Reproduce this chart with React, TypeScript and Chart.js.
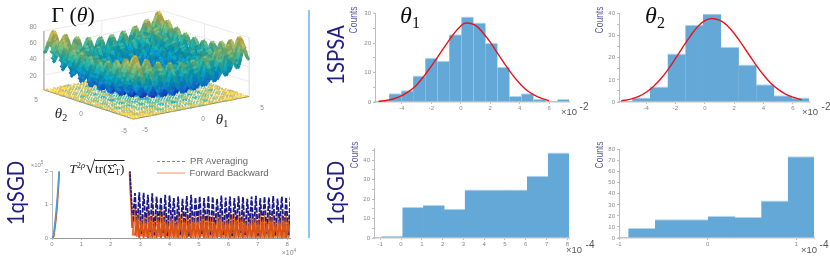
import React, { useEffect, useRef } from "react";
import { Chart, registerables } from "chart.js";
Chart.register(...registerables);

// ---------- data ----------
// Surface: one-dimensional ridge profile of the back edge, theta = 0 .. 5 in steps of 0.125
const ridgeProfile = [0, 2.9, 10.1, 17.2, 20.3, 17.5, 10.6, 3.7, 1, 4.2, 11.6, 19, 22.3, 19.7, 13.1, 6.5, 4, 7.5, 15.1, 22.7, 26.3, 24, 17.6, 11.2, 9, 12.7, 20.6, 28.5, 32.3, 30.2, 24.1, 18, 16, 20, 28.1, 36.2, 40.3, 38.5, 32.6, 26.7, 25];

const zTicks = [20, 40, 60, 80];

const spikeX = [0.02, 0.06, 0.1, 0.14, 0.18, 0.22, 0.26];
const spikeBlue = [0, 0.15, 0.45, 0.8, 1.2, 1.7, 2.3];
const spikeOrange = [0, 0.05, 0.3, 0.6, 1.0, 1.55, 2.2];
const dropX = [2.63, 2.66, 2.7, 2.73];
const dropBlue = [2.4, 1.9, 1.25, 0.7];
const dropOrange = [2.4, 1.6, 1.0, 0.3];
const bluePeaks = [1.35, 1.38, 1.36, 1.3, 1.35, 1.25, 1.22, 1.3, 1.28, 1.2, 1.25, 1.18, 1.26, 1.3, 1.22, 1.25, 1.2, 1.27, 1.24, 1.18, 1.28, 1.22, 1.25, 1.2, 1.26, 1.23, 1.18, 1.25, 1.27, 1.2, 1.24, 1.22, 1.26, 1.19, 1.25, 1.23, 1.24];
const blueTroughs = [0.5, 0.3, 0.12, 0.4, 0.18, 0.08, 0.35, 0.15, 0.06, 0.42, 0.2, 0.1, 0.33, 0.07, 0.25, 0.45, 0.12, 0.3, 0.08, 0.22, 0.38, 0.1, 0.28, 0.06, 0.4, 0.16, 0.09, 0.32, 0.2, 0.07, 0.36, 0.14, 0.27, 0.08, 0.41, 0.18, 0.1];
const orangePeaks = [0.95, 0.8, 0.7, 0.85, 0.6, 0.75, 0.9, 0.65, 0.7, 0.55, 0.8, 0.6, 0.72, 0.68, 0.58, 0.8, 0.62, 0.7, 0.55, 0.75, 0.66, 0.6, 0.78, 0.58, 0.7, 0.64, 0.52, 0.76, 0.6, 0.68, 0.56, 0.72, 0.62, 0.58, 0.7, 0.6, 0.66];
const orangeLowPeaks = [0.5, 0.45, 0.4, 0.5, 0.38, 0.42, 0.5, 0.4, 0.44, 0.36, 0.48, 0.4, 0.42, 0.45, 0.38, 0.5, 0.4, 0.44, 0.36, 0.46, 0.42, 0.38, 0.48, 0.4, 0.44, 0.4, 0.36, 0.46, 0.4, 0.42, 0.38, 0.44, 0.4, 0.38, 0.44, 0.4, 0.42];
const orangeTroughs = [0.07, 0.04, 0.05, 0.03, 0.06, 0.04, 0.03, 0.05, 0.04, 0.06, 0.03, 0.05, 0.04, 0.03, 0.06, 0.04, 0.05, 0.03, 0.04, 0.06, 0.03, 0.05, 0.04, 0.03, 0.05, 0.04, 0.06, 0.03, 0.05, 0.04, 0.03, 0.05, 0.04, 0.06, 0.03, 0.04, 0.05];

const spsa1Centers = [-4.45, -3.63, -2.82, -2.0, -1.18, -0.37, 0.45, 1.27, 2.08, 2.9, 3.71, 4.53, 5.35, 6.98];
const spsa1Counts = [3, 4, 9, 15, 14, 23, 29, 27, 20, 12, 2, 3, 1, 1];
const spsa1FitX = [-5.6, -5, -4.5, -4, -3.5, -3, -2.5, -2, -1.5, -1, -0.5, 0, 0.35, 1, 1.5, 2, 2.5, 3, 3.5, 4, 4.5, 5, 5.5, 6];
const spsa1FitY = [0.2, 0.6, 1.2, 2.2, 3.7, 5.8, 8.8, 12.2, 15.8, 19.5, 23, 25.8, 26.8, 26, 23.5, 20.3, 16.5, 12.8, 9.3, 6.3, 3.9, 2.3, 1.2, 0.5];

const spsa2Centers = [-4.33, -3.12, -1.92, -0.71, 0.5, 1.7, 2.91, 4.12, 5.32, 6.53];
const spsa2Counts = [2, 7, 22, 35, 40, 25, 17, 8, 3, 2];
const spsa2FitX = [-5.7, -5, -4.5, -4, -3.5, -3, -2.5, -2, -1.5, -1, -0.5, 0, 0.45, 1, 1.5, 2, 2.5, 3, 3.5, 4, 4.5, 5, 5.5, 6, 6.6];
const spsa2FitY = [0.5, 1.4, 2.5, 4.4, 7, 10.5, 14.8, 19.7, 24.8, 29.7, 34, 36.8, 37.8, 37, 34.7, 31, 26.4, 21.5, 16.6, 12.2, 8.5, 5.7, 3.6, 2.2, 1];

const sgd1Centers = [-0.42, 0.58, 1.58, 2.58, 3.58, 4.58, 5.58, 6.58, 7.58];
const sgd1Counts = [1, 16, 17, 15, 25, 25, 25, 32, 44];

const sgd2Centers = [-0.74, -0.44, -0.14, 0.16, 0.46, 0.76, 1.06];
const sgd2Counts = [9, 17, 17, 20, 19, 34, 74];

// ---------- helpers ----------
const SANS = '"Liberation Sans", sans-serif';
const SERIF = '"Liberation Serif", serif';
const TICK = "#8a8a8a";
const BAR = "#64a8d7";

const parula: [number, number[]][] = [
  [0, [53, 42, 135]], [0.12, [15, 80, 222]], [0.25, [20, 125, 215]], [0.4, [6, 165, 200]],
  [0.5, [46, 183, 164]], [0.62, [135, 191, 119]], [0.75, [205, 185, 85]], [0.9, [245, 190, 50]], [1, [249, 220, 30]],
];
function colorAt(t: number, shade = 1, alpha = 1) {
  const v = Math.max(0, Math.min(1, t));
  for (let i = 1; i < parula.length; i++) {
    if (v <= parula[i][0]) {
      const [a, ca] = parula[i - 1];
      const [b, cb] = parula[i];
      const k = (v - a) / (b - a);
      const c = ca.map((q, n) => Math.round((q + (cb[n] - q) * k) * shade));
      return `rgba(${c[0]},${c[1]},${c[2]},${alpha})`;
    }
  }
  return "rgb(249,220,30)";
}

const front = [133, 122];
const toRight = [119, -24];
const toLeft = [-92, -31];
function project(t1: number, t2: number, z: number) {
  const a = (t1 + 5) / 10;
  const b = (t2 + 5) / 10;
  const k = 0.8 - 0.04 * (a + b) / 2;
  return { x: front[0] + a * toRight[0] + b * toLeft[0], y: front[1] + a * toRight[1] + b * toLeft[1] - z * k };
}
const profileAt = (i: number) => ridgeProfile[Math.abs(i - 40)];

function surfaceConfig() {
  const floor: any[] = [];
  const floorCol: string[] = [];
  for (let i = 0; i <= 80; i++) {
    for (let j = 0; j <= 80; j++) {
      const z = profileAt(i) + profileAt(j);
      if (z % 11 < 5) {
        floor.push(project((i - 40) / 8, (j - 40) / 8, 0));
        floorCol.push(colorAt(z / 100 + 0.3, 1, 0.75));
      }
    }
  }
  // one line per theta2 row, painted from the back row to the front row
  const rows: any[] = [];
  for (let j = 80; j >= 0; j--) {
    const pts: any[] = [];
    const cols: string[] = [];
    for (let i = 0; i <= 80; i++) {
      const z = profileAt(i) + profileAt(j);
      pts.push(project((i - 40) / 8, (j - 40) / 8, z));
      const mesh = i % 3 === 0 || j % 3 === 0;
      cols.push(colorAt(z / 100, mesh ? 0.85 : 1.0));
    }
    rows.push({
      type: "line",
      data: pts,
      borderWidth: 3,
      borderColor: cols[0],
      pointRadius: 0,
      segment: { borderColor: (ctx: any) => cols[ctx.p0DataIndex] },
    });
  }
  const wall = (pts: number[][], color: string, w = 0.8) => ({
    type: "line" as const,
    data: pts.map(([a, b, c]) => project(a, b, c)),
    borderColor: color,
    borderWidth: w,
    pointRadius: 0,
  });
  const grid = "#e4e4e4";
  const walls = [
    wall([[-5, 5, 0], [-5, 5, 80], [5, 5, 80], [5, -5, 80], [5, -5, 0]], grid),
    wall([[5, 5, 0], [5, 5, 80]], grid),
    wall([[0, 5, 0], [0, 5, 80]], grid),
    wall([[5, 0, 0], [5, 0, 80]], grid),
    ...zTicks.slice(0, 3).map((z) => wall([[-5, 5, z], [5, 5, z], [5, -5, z]], grid)),
    wall([[-5, 5, 0], [-5, 5, 80]], "#666", 1),
    wall([[-5, 5, 0], [-5, -5, 0], [5, -5, 0]], "#777", 1),
  ];
  // chart.js paints the first dataset last, so list front-most first
  return {
    type: "scatter" as const,
    data: {
      datasets: [
        ...rows.reverse(),
        { data: floor, pointBackgroundColor: floorCol, pointRadius: 0.9, pointBorderWidth: 0 },
        ...walls,
      ],
    },
    options: {
      animation: false as const,
      responsive: false,
      events: [],
      layout: { padding: 0 },
      plugins: { legend: { display: false }, tooltip: { enabled: false } },
      scales: {
        x: { type: "linear" as const, display: false, min: 0, max: 300 },
        y: { type: "linear" as const, display: false, min: 0, max: 140, reverse: true },
      },
    },
  };
}

function zig(x0: number, p: number, lows: number[], highs: number[]) {
  const out: any[] = [];
  lows.forEach((l, i) => {
    out.push({ x: x0 + i * p, y: l });
    out.push({ x: x0 + i * p + p / 2, y: highs[i] });
  });
  return out;
}
const zipXY = (xs: number[], ys: number[]) => xs.map((x, i) => ({ x, y: ys[i] }));

function axisBase(w: number, h: number, ymax: number, ystep: number, major: number) {
  return {
    y: {
      type: "linear" as const,
      min: 0,
      max: ymax,
      afterFit: (s: any) => { s.width = w; },
      border: { color: "#bdbdbd" },
      grid: { drawOnChartArea: false, tickColor: "#bdbdbd", tickLength: 2 },
      ticks: {
        stepSize: ystep,
        includeBounds: false,
        autoSkip: false,
        padding: 2,
        color: TICK,
        font: { family: SANS, size: 6 },
        callback: (v: any) => (v % major === 0 ? String(v) : ""),
      },
    },
    xBase: {
      type: "linear" as const,
      offset: false,
      afterFit: (s: any) => { s.height = h; },
      border: { color: "#c4c4c4", width: 1.5 },
      grid: { offset: false, drawOnChartArea: false, tickColor: "#bdbdbd", tickLength: 2 },
      ticks: { includeBounds: false, autoSkip: false, maxRotation: 0, padding: 1, color: TICK, font: { family: SANS, size: 6 } },
    },
  };
}

type Box = { l: number; r: number; t: number; b: number };
const PADL = 30;
const PADB = 16;
const PADT = 4;
const PADR = 2;

function histConfig(box: Box, centers: number[], counts: number[], fx: number[] | null, fy: number[] | null, xmin: number, xmax: number, xstep: number, ymax: number, ystep: number, major: number) {
  const ax = axisBase(PADL, PADB, ymax, ystep, major);
  const datasets: any[] = [
    {
      type: "bar",
      data: zipXY(centers, counts),
      backgroundColor: BAR,
      borderColor: "#b4d6ec",
      borderWidth: { top: 1, left: 0, right: 0, bottom: 0 },
      barPercentage: 1.04,
      categoryPercentage: 1,
      order: 2,
    },
  ];
  if (fx && fy) {
    datasets.push({ type: "line", data: zipXY(fx, fy), borderColor: "#e8141c", borderWidth: 1.4, pointRadius: 0, tension: 0.4, order: 1 });
  }
  return {
    type: "bar" as const,
    data: { datasets },
    options: {
      animation: false as const,
      responsive: false,
      events: [],
      layout: { padding: { left: 0, top: PADT, right: PADR, bottom: 0 } },
      plugins: { legend: { display: false }, tooltip: { enabled: false } },
      scales: {
        x: { ...ax.xBase, min: xmin, max: xmax, ticks: { ...ax.xBase.ticks, stepSize: xstep } },
        y: ax.y,
      },
    },
  };
}

function traceConfig(box: Box) {
  const ax = axisBase(PADL, PADB, 2, 1, 1);
  const p = 0.147;
  const line = (data: any[], color: string, w: number, dash?: number[], order = 0) => ({
    type: "line",
    data,
    borderColor: color,
    borderWidth: w,
    borderDash: dash,
    pointRadius: 0,
    order,
  });
  return {
    type: "line" as const,
    data: {
      datasets: [
        line(zipXY(spikeX, spikeOrange), "#d95319", 1.6, undefined, 3),
        line(zipXY(spikeX, spikeBlue), "#4a9fd8", 1.6, undefined, 2),
        line(zipXY(dropX, dropOrange), "#d95319", 2, undefined, 3),
        line(zipXY(dropX, dropBlue), "#1c1a86", 1.6, [3, 1], 2),
        line(zig(2.75, p, orangeTroughs, orangePeaks), "#e8763c", 2.2, undefined, 5),
        line(zig(2.75, p, blueTroughs, bluePeaks), "#1c1a86", 1.8, [5, 1.5], 4),
        line(zig(2.75 + p / 2, p, orangeTroughs, orangeLowPeaks), "#d95319", 2.2, undefined, 3),
      ],
    },
    options: {
      animation: false as const,
      responsive: false,
      events: [],
      layout: { padding: { left: 0, top: PADT, right: PADR, bottom: 0 } },
      plugins: { legend: { display: false }, tooltip: { enabled: false } },
      scales: {
        x: { ...ax.xBase, min: 0, max: 8.1, border: { color: "#999", width: 1 }, ticks: { ...ax.xBase.ticks, stepSize: 1 } },
        y: ax.y,
      },
    },
  };
}

function Panel({ box, make }: { box: Box; make: () => any }) {
  const ref = useRef<HTMLCanvasElement>(null);
  useEffect(() => {
    const chart = new Chart(ref.current as HTMLCanvasElement, make());
    return () => chart.destroy();
  }, []);
  const w = box.r - box.l + PADL + PADR;
  const h = box.b - box.t + PADT + PADB;
  return (
    <canvas
      ref={ref}
      width={w}
      height={h}
      style={{ position: "absolute", left: box.l - PADL, top: box.t - PADT, width: w, height: h }}
    />
  );
}

function Surface() {
  const ref = useRef<HTMLCanvasElement>(null);
  useEffect(() => {
    const chart = new Chart(ref.current as HTMLCanvasElement, surfaceConfig() as any);
    return () => chart.destroy();
  }, []);
  return <canvas ref={ref} width={300} height={140} style={{ position: "absolute", left: 0, top: 0, width: 300, height: 140 }} />;
}

function T({ x, y, size, color = "#222", font = SANS, rot = 0, sx = 1, weight = 400, children }: any) {
  return (
    <div
      style={{
        position: "absolute",
        left: x,
        top: y,
        fontSize: size,
        color,
        fontFamily: font,
        fontWeight: weight,
        lineHeight: 1,
        whiteSpace: "nowrap",
        transform: `translate(-50%,-50%) rotate(${rot}deg) scaleX(${sx})`,
      }}
    >
      {children}
    </div>
  );
}

const sub = (s: string, size: number, dy: number) => (
  <span style={{ fontSize: size, position: "relative", top: dy, fontStyle: "normal" }}>{s}</span>
);

const NAVY = "#201e86";
const COUNT = "#5b5b9c";
const boxTrace: Box = { l: 52, r: 290, t: 170, b: 238 };
const boxS1: Box = { l: 375, r: 569, t: 12, b: 102 };
const boxS2: Box = { l: 619, r: 809, t: 12, b: 102 };
const boxG1: Box = { l: 374, r: 569, t: 147, b: 238 };
const boxG2: Box = { l: 619, r: 814, t: 148, b: 238 };

export default function App() {
  return (
    <div style={{ position: "fixed", left: 0, top: 0, width: 830, height: 259, overflow: "hidden", background: "#fff" }}>
      <Surface />
      <Panel box={boxTrace} make={() => traceConfig(boxTrace)} />
      <Panel box={boxS1} make={() => histConfig(boxS1, spsa1Centers, spsa1Counts, spsa1FitX, spsa1FitY, -5.83, 7.35, 2, 30, 5, 10)} />
      <Panel box={boxS2} make={() => histConfig(boxS2, spsa2Centers, spsa2Counts, spsa2FitX, spsa2FitY, -5.85, 7.1, 2, 40, 5, 10)} />
      <Panel box={boxG1} make={() => histConfig(boxG1, sgd1Centers, sgd1Counts, null, null, -1.3, 8.08, 1, 46, 5, 10)} />
      <Panel box={boxG2} make={() => histConfig(boxG2, sgd2Centers, sgd2Counts, null, null, -1, 1.2, 1, 80, 10, 10)} />

      <div style={{ position: "absolute", left: 308, top: 10, width: 1.5, height: 228, background: "#8fc6ea" }} />

      <T x={73} y={15} size={22} font={SERIF} color="#111">Γ (<i>θ</i>)</T>
      <T x={33} y={27} size={6.5} color={TICK}>80</T>
      <T x={33} y={43} size={6.5} color={TICK}>60</T>
      <T x={33} y={59} size={6.5} color={TICK}>40</T>
      <T x={33} y={76} size={6.5} color={TICK}>20</T>
      <T x={36} y={100} size={6.5} color={TICK}>5</T>
      <T x={81} y={114} size={6.5} color={TICK}>0</T>
      <T x={124} y={131} size={6.5} color={TICK}>-5</T>
      <T x={145} y={130} size={6.5} color={TICK}>-5</T>
      <T x={203} y={119} size={6.5} color={TICK}>0</T>
      <T x={262} y={108} size={6.5} color={TICK}>5</T>
      <T x={61} y={113} size={15} font={SERIF}><i>θ</i>{sub("2", 10, 3)}</T>
      <T x={222} y={119} size={15} font={SERIF}><i>θ</i>{sub("1", 10, 3)}</T>

      <T x={15} y={193} size={24} color={NAVY} font='"Lato", sans-serif' weight={400} rot={-90} sx={0.85}>1qSGD</T>
      <T x={37} y={164} size={6} color={TICK}>×10<sup style={{ fontSize: 4.5 }}>5</sup></T>
      <T x={289} y={252} size={7} color={TICK}>×10<sup style={{ fontSize: 5 }}>4</sup></T>
      <T x={97} y={167} size={13} font={SERIF} color="#222">
        <i>T</i><sup style={{ fontSize: 8.5, lineHeight: 0 }}>2<i>ρ</i></sup><span style={{ fontSize: 18 }}>√</span>
        <span style={{ borderTop: "1px solid #222" }}>tr(Σ̂{sub("T", 8.5, 2)})</span>
      </T>
      <div style={{ position: "absolute", left: 157, top: 161, width: 28, borderTop: "1.5px dashed #7a7ad8" }} />
      <div style={{ position: "absolute", left: 157, top: 172, width: 28, borderTop: "2px solid #f6c9b4" }} />
      <T x={219} y={161} size={9.5} color="#666">PR Averaging</T>
      <T x={229} y={173} size={9.5} color="#666">Forward Backward</T>

      <T x={335} y={55} size={24} color={NAVY} font='"Lato", sans-serif' weight={400} rot={-90} sx={0.85}>1SPSA</T>
      <T x={335} y={193} size={24} color={NAVY} font='"Lato", sans-serif' weight={400} rot={-90} sx={0.85}>1qSGD</T>

      <T x={354} y={20} size={10} color={COUNT} rot={-90} sx={0.85}>Counts</T>
      <T x={600} y={20} size={10} color={COUNT} rot={-90} sx={0.85}>Counts</T>
      <T x={355} y={155} size={10} color={COUNT} rot={-90} sx={0.85}>Counts</T>
      <T x={600} y={155} size={10} color={COUNT} rot={-90} sx={0.85}>Counts</T>

      <T x={410} y={15} size={24} font={SERIF} color="#111"><i>θ</i>{sub("1", 16, 5)}</T>
      <T x={655} y={15} size={24} font={SERIF} color="#111"><i>θ</i>{sub("2", 16, 5)}</T>

      <T x={569} y={112} size={9.5} color="#555">×10</T>
      <T x={584} y={107} size={10} color="#555">-2</T>
      <T x={810} y={112} size={9.5} color="#555">×10</T>
      <T x={826} y={107} size={10} color="#555">-2</T>
      <T x={574} y={250} size={9.5} color="#555">×10</T>
      <T x={590} y={245} size={10} color="#555">-4</T>
      <T x={809} y={250} size={9.5} color="#555">×10</T>
      <T x={824} y={245} size={10} color="#555">-4</T>
    </div>
  );
}
